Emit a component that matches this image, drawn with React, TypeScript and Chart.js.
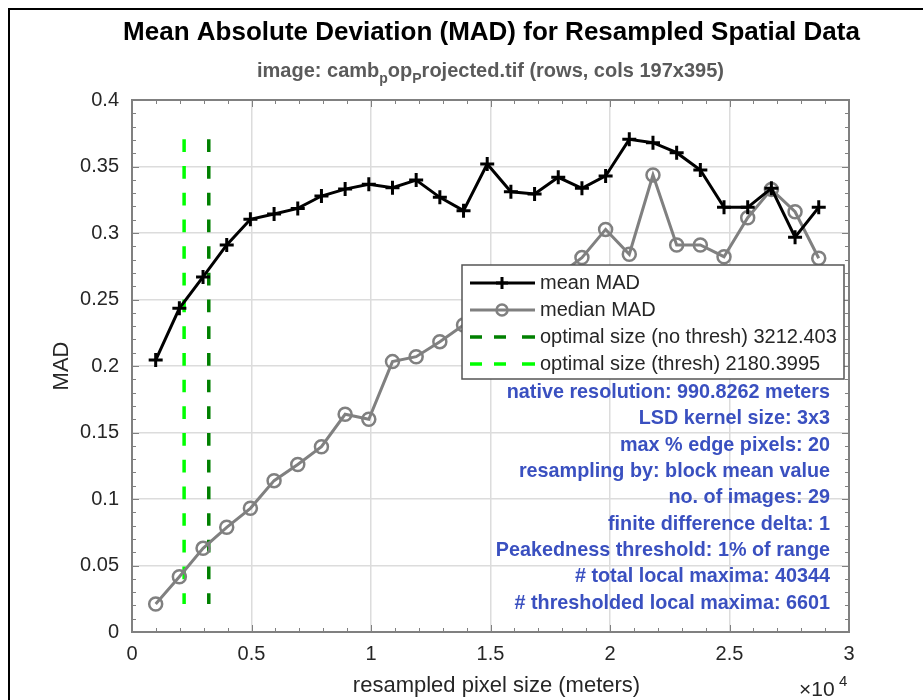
import React, { useEffect, useRef } from "react";
import { Chart, registerables } from "chart.js";

Chart.register(...registerables);

// ---------- data ----------
const nativeResolution = 990.8262;
const imageIndex = [1, 2, 3, 4, 5, 6, 7, 8, 9, 10, 11, 12, 13, 14, 15, 16, 17, 18, 19, 20, 21, 22, 23, 24, 25, 26, 27, 28, 29];
const meanMAD = [
  0.2045, 0.2434, 0.267, 0.291, 0.3103, 0.3143, 0.3185, 0.3278, 0.333, 0.3366,
  0.334, 0.3398, 0.3268, 0.3168, 0.3519, 0.331, 0.3293, 0.3419, 0.3336, 0.3429,
  0.3704, 0.3679, 0.3604, 0.3474, 0.3193, 0.3193, 0.3336, 0.2968, 0.3193,
];
const medianMAD = [
  0.0211, 0.0416, 0.0629, 0.0787, 0.093, 0.1138, 0.126, 0.1393, 0.1637, 0.16,
  0.2033, 0.207, 0.2183, 0.2308, 0.24, 0.25, 0.258, 0.268, 0.2815, 0.3027,
  0.284, 0.3436, 0.291, 0.291, 0.2822, 0.3115, 0.3328, 0.316, 0.281,
];
const optimalNoThresh = 3212.403;
const optimalThresh = 2180.3995;

const xTickValues = [0, 5000, 10000, 15000, 20000, 25000, 30000];
const xTickLabels = ["0", "0.5", "1", "1.5", "2", "2.5", "3"];
const yTickValues = [0, 0.05, 0.1, 0.15, 0.2, 0.25, 0.3, 0.35, 0.4];
const yTickLabels = ["0", "0.05", "0.1", "0.15", "0.2", "0.25", "0.3", "0.35", "0.4"];

const titleText = "Mean Absolute Deviation (MAD) for Resampled Spatial Data";
const subtitleParts: [string, boolean][] = [
  ["image: camb", false],
  ["p", true],
  ["op", false],
  ["P", true],
  ["rojected.tif (rows, cols 197x395)", false],
];
const xLabel = "resampled pixel size (meters)";
const yLabel = "MAD";
const legendLabels = [
  "mean MAD",
  "median MAD",
  "optimal size (no thresh) 3212.403",
  "optimal size (thresh) 2180.3995",
];
const infoLines = [
  "native resolution: 990.8262 meters",
  "LSD kernel size: 3x3",
  "max % edge pixels: 20",
  "resampling by: block mean value",
  "no. of images: 29",
  "finite difference delta: 1",
  "Peakedness threshold: 1% of range",
  "# total local maxima: 40344",
  "# thresholded local maxima: 6601",
];

// ---------- styles ----------
const FONT = "'Liberation Sans', Arial, Helvetica, sans-serif";
const TEXT = "#262626";
const MEAN_COLOR = "#000000";
const MEDIAN_COLOR = "#808080";
const DARK_GREEN = "#008000";
const LIGHT_GREEN = "#00ff00";
const INFO_COLOR = "#3a50c0";
const AXIS_COLOR = "#808080";

function drawCross(ctx: CanvasRenderingContext2D, x: number, y: number, r: number) {
  ctx.beginPath();
  ctx.moveTo(x - r, y);
  ctx.lineTo(x + r, y);
  ctx.moveTo(x, y - r);
  ctx.lineTo(x, y + r);
  ctx.stroke();
}

const decorPlugin = {
  id: "decor",
  afterDatasetsDraw(chart: any) {
    const ctx: CanvasRenderingContext2D = chart.ctx;
    const { left, right, top, bottom } = chart.chartArea;
    const xs = chart.scales.x;
    const ys = chart.scales.y;
    ctx.save();
    ctx.strokeStyle = AXIS_COLOR;
    ctx.lineWidth = 1;
    for (let i = 0; i <= 30; i++) {
      const px = Math.round(xs.getPixelForValue(i * 1000)) + 0.5;
      const len = i % 5 === 0 ? 7 : 4;
      ctx.beginPath();
      ctx.moveTo(px, bottom);
      ctx.lineTo(px, bottom - len);
      ctx.moveTo(px, top);
      ctx.lineTo(px, top + len);
      ctx.stroke();
    }
    for (let i = 0; i <= 40; i++) {
      const py = Math.round(ys.getPixelForValue(i * 0.01)) + 0.5;
      const len = i % 5 === 0 ? 7 : 4;
      ctx.beginPath();
      ctx.moveTo(left, py);
      ctx.lineTo(left + len, py);
      ctx.moveTo(right, py);
      ctx.lineTo(right - len, py);
      ctx.stroke();
    }
    ctx.lineWidth = 2;
    ctx.strokeRect(left, top, right - left, bottom - top);
    ctx.restore();
  },
  afterDraw(chart: any) {
    const ctx: CanvasRenderingContext2D = chart.ctx;
    const { left, right, top, bottom } = chart.chartArea;
    const cx = (left + right) / 2;
    ctx.save();

    // figure border
    ctx.strokeStyle = "#000";
    ctx.lineWidth = 2;
    ctx.beginPath();
    ctx.moveTo(9, 710);
    ctx.lineTo(9, 9);
    ctx.lineTo(930, 9);
    ctx.stroke();

    // title
    ctx.fillStyle = "#000";
    ctx.textAlign = "center";
    ctx.textBaseline = "middle";
    ctx.font = `bold 26px ${FONT}`;
    ctx.fillText(titleText, cx + 1, 33);

    // subtitle with subscripts
    const mainFont = `bold 20px ${FONT}`;
    const subFont = `bold 14px ${FONT}`;
    let total = 0;
    for (const [t, sub] of subtitleParts) {
      ctx.font = sub ? subFont : mainFont;
      total += ctx.measureText(t).width;
    }
    let sx = cx - total / 2;
    ctx.fillStyle = "#5a5a5a";
    ctx.textAlign = "left";
    for (const [t, sub] of subtitleParts) {
      ctx.font = sub ? subFont : mainFont;
      ctx.fillText(t, sx, sub ? 79 : 71);
      sx += ctx.measureText(t).width;
    }

    // axis labels
    ctx.fillStyle = TEXT;
    ctx.textAlign = "center";
    ctx.font = `22px ${FONT}`;
    ctx.fillText(xLabel, cx + 6, 686);
    ctx.save();
    ctx.translate(62, (top + bottom) / 2);
    ctx.rotate(-Math.PI / 2);
    ctx.fillText(yLabel, 0, 0);
    ctx.restore();

    // x10^4
    ctx.textAlign = "left";
    ctx.font = `21px ${FONT}`;
    ctx.fillText("\u00d710", 799, 690);
    ctx.font = `15px ${FONT}`;
    ctx.fillText("4", 839, 682);

    // legend
    const lx = 462, ly = 265, lw = 382, lh = 114;
    ctx.fillStyle = "#fff";
    ctx.fillRect(lx, ly, lw, lh);
    ctx.strokeStyle = "#555";
    ctx.lineWidth = 1.5;
    ctx.strokeRect(lx, ly, lw, lh);
    const rowY = [283, 310, 337, 364];
    const x0 = 470, x1 = 535, xm = 502;
    ctx.strokeStyle = MEAN_COLOR;
    ctx.lineWidth = 3;
    ctx.beginPath();
    ctx.moveTo(x0, rowY[0]);
    ctx.lineTo(x1, rowY[0]);
    ctx.stroke();
    drawCross(ctx, xm, rowY[0], 6);
    ctx.strokeStyle = MEDIAN_COLOR;
    ctx.beginPath();
    ctx.moveTo(x0, rowY[1]);
    ctx.lineTo(x1, rowY[1]);
    ctx.stroke();
    ctx.lineWidth = 2.5;
    ctx.beginPath();
    ctx.arc(xm, rowY[1], 5.5, 0, Math.PI * 2);
    ctx.stroke();
    const dashSegs = [[470, 482], [494, 506], [522, 535]];
    [DARK_GREEN, LIGHT_GREEN].forEach((c, i) => {
      ctx.strokeStyle = c;
      ctx.lineWidth = 3.5;
      ctx.beginPath();
      for (const [a, b] of dashSegs) {
        ctx.moveTo(a, rowY[2 + i]);
        ctx.lineTo(b, rowY[2 + i]);
      }
      ctx.stroke();
    });
    ctx.fillStyle = TEXT;
    ctx.font = `20px ${FONT}`;
    ctx.textAlign = "left";
    legendLabels.forEach((t, i) => ctx.fillText(t, 540, rowY[i]));

    // info text
    ctx.fillStyle = INFO_COLOR;
    ctx.font = `bold 19.8px ${FONT}`;
    ctx.textAlign = "right";
    infoLines.forEach((t, i) => ctx.fillText(t, 830, 392.5 + i * 26.35));

    ctx.restore();
  },
};

export default function App() {
  const canvasRef = useRef<HTMLCanvasElement | null>(null);

  useEffect(() => {
    if (!canvasRef.current) return;
    const xValues = imageIndex.map((k) => k * nativeResolution);
    const lineBottom = Math.min(...medianMAD);
    const lineTop = Math.max(...meanMAD);

    const chart = new Chart(canvasRef.current, {
      type: "line",
      data: {
        datasets: [
          {
            label: legendLabels[0],
            data: xValues.map((x, i) => ({ x, y: meanMAD[i] })),
            borderColor: MEAN_COLOR,
            backgroundColor: MEAN_COLOR,
            borderWidth: 3,
            pointStyle: "cross",
            pointRadius: 7,
            pointBorderWidth: 3,
            pointBorderColor: MEAN_COLOR,
            order: 1,
          },
          {
            label: legendLabels[1],
            data: xValues.map((x, i) => ({ x, y: medianMAD[i] })),
            borderColor: MEDIAN_COLOR,
            backgroundColor: "rgba(0,0,0,0)",
            borderWidth: 3,
            pointStyle: "circle",
            pointRadius: 6.5,
            pointBorderWidth: 2.5,
            pointBorderColor: MEDIAN_COLOR,
            pointBackgroundColor: "rgba(0,0,0,0)",
            order: 2,
          },
          {
            label: legendLabels[2],
            data: [
              { x: optimalNoThresh, y: lineTop },
              { x: optimalNoThresh, y: lineBottom },
            ],
            borderColor: DARK_GREEN,
            borderWidth: 3.5,
            borderDash: [12.7, 14],
            pointRadius: 0,
            order: 3,
          },
          {
            label: legendLabels[3],
            data: [
              { x: optimalThresh, y: lineTop },
              { x: optimalThresh, y: lineBottom },
            ],
            borderColor: LIGHT_GREEN,
            borderWidth: 3.5,
            borderDash: [12.7, 14],
            pointRadius: 0,
            order: 4,
          },
        ],
      },
      options: {
        responsive: false,
        animation: false,
        devicePixelRatio: 1,
        layout: { padding: { left: 0, right: 74, top: 100, bottom: 0 } },
        plugins: {
          legend: { display: false },
          title: { display: false },
          tooltip: { enabled: false },
        },
        scales: {
          x: {
            type: "linear",
            min: 0,
            max: 30000,
            afterBuildTicks: (scale: any) => {
              scale.ticks = xTickValues.map((v) => ({ value: v }));
            },
            afterFit: (scale: any) => {
              scale.height = 68;
            },
            ticks: {
              color: TEXT,
              font: { family: FONT, size: 20 },
              padding: 10,
              maxRotation: 0,
              callback: (v: any) => {
                const i = xTickValues.indexOf(Number(v));
                return i >= 0 ? xTickLabels[i] : "";
              },
            },
            grid: { color: "#dcdcdc", lineWidth: 1.5, drawTicks: false },
            border: { display: false },
          },
          y: {
            type: "linear",
            min: 0,
            max: 0.4,
            afterBuildTicks: (scale: any) => {
              scale.ticks = yTickValues.map((v) => ({ value: v }));
            },
            afterFit: (scale: any) => {
              scale.width = 132;
            },
            ticks: {
              color: TEXT,
              font: { family: FONT, size: 20 },
              padding: 13,
              callback: (v: any) => {
                const i = yTickValues.findIndex((t) => Math.abs(t - Number(v)) < 1e-9);
                return i >= 0 ? yTickLabels[i] : "";
              },
            },
            grid: { color: "#dcdcdc", lineWidth: 1.5, drawTicks: false },
            border: { display: false },
          },
        },
      },
      plugins: [decorPlugin],
    } as any);

    return () => chart.destroy();
  }, []);

  return (
    <div style={{ position: "fixed", left: 0, top: 0, width: 923, height: 700, background: "#fff" }}>
      <canvas ref={canvasRef} width={923} height={700} style={{ width: 923, height: 700, display: "block" }} />
    </div>
  );
}
